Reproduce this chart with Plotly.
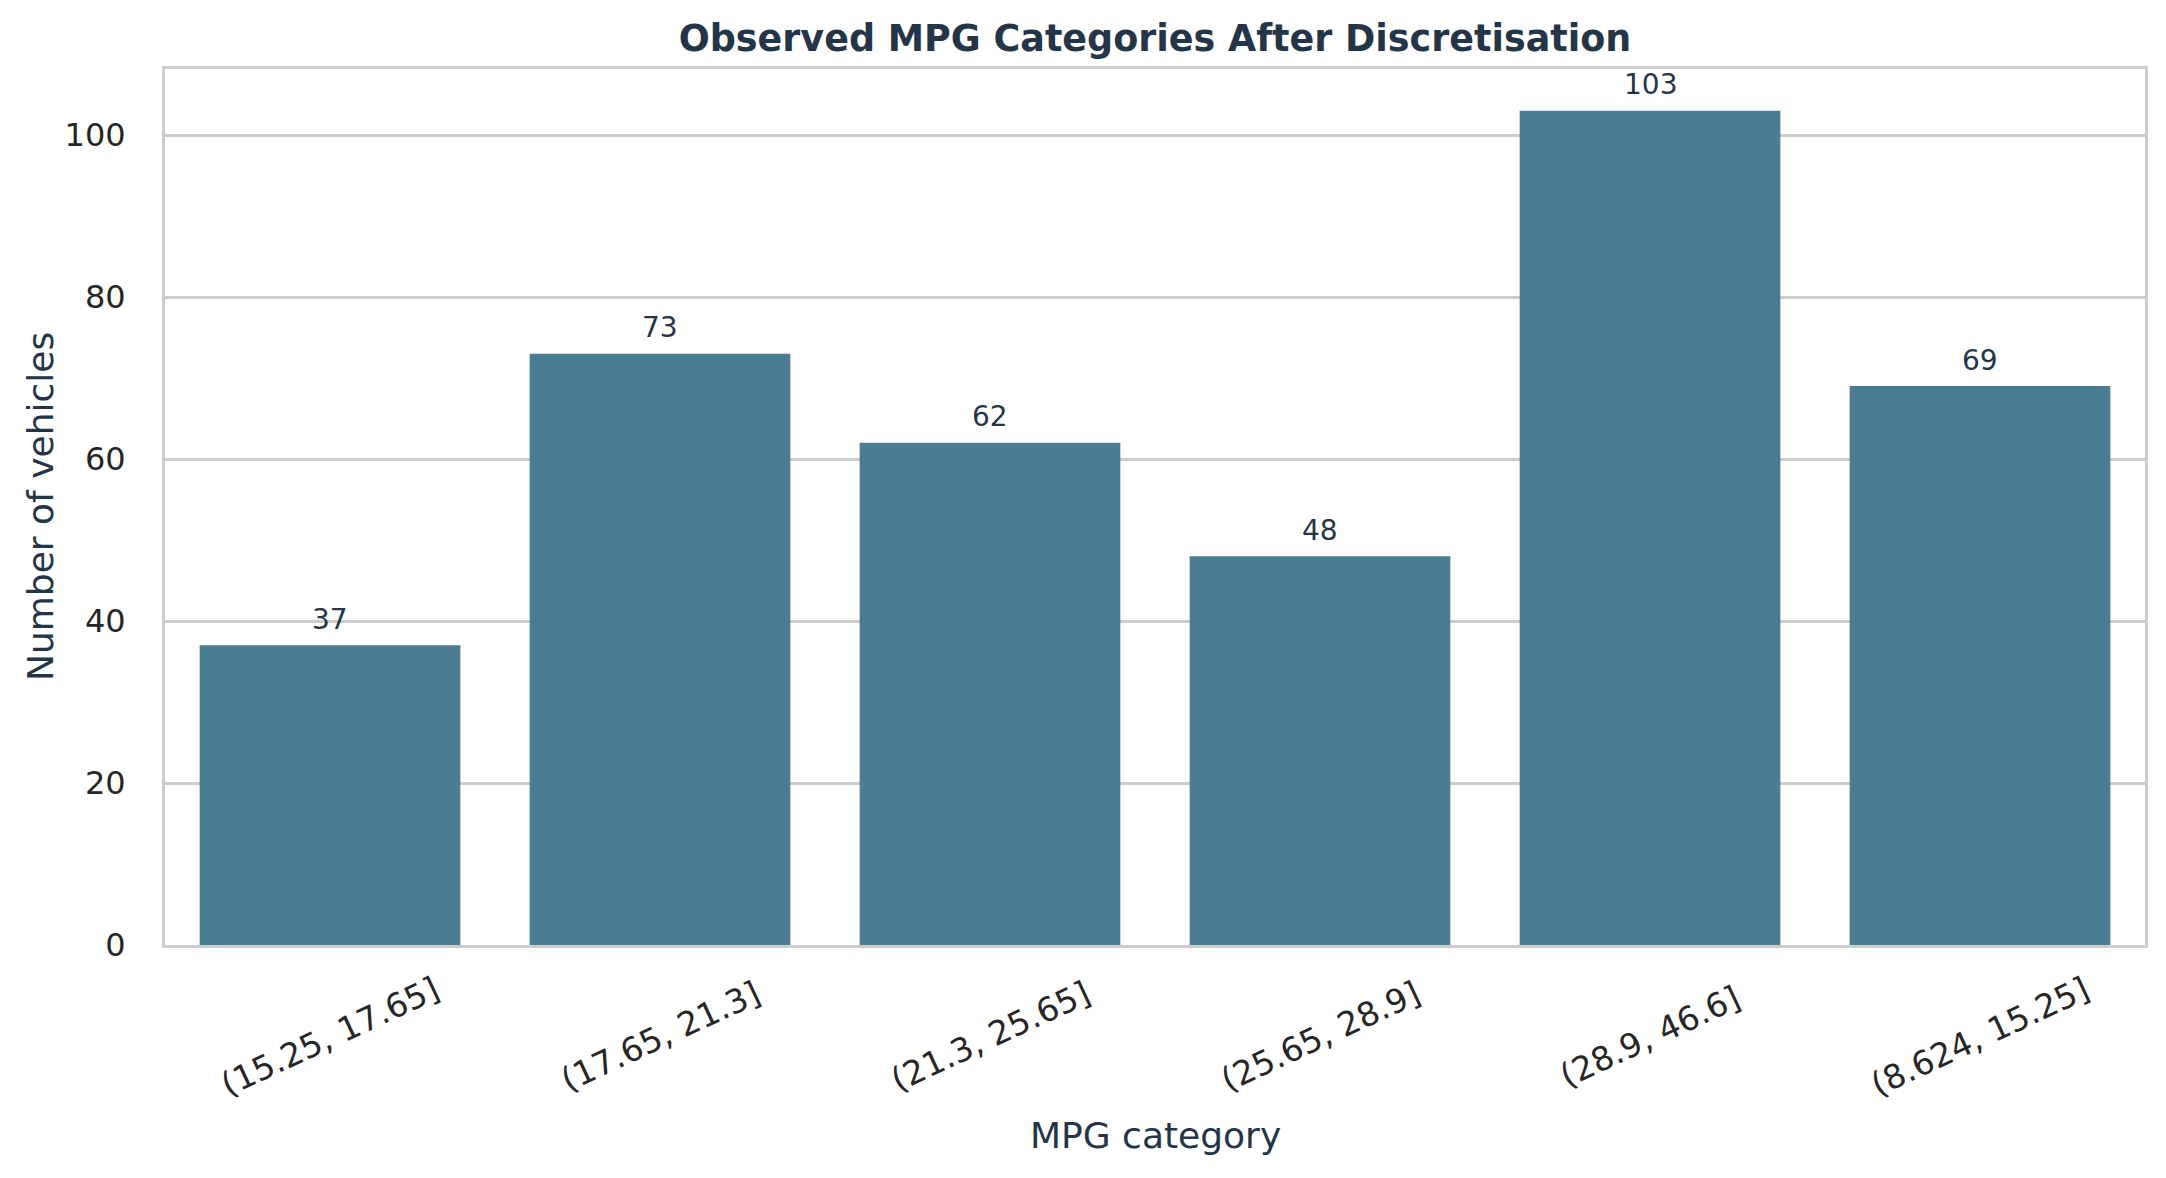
import plotly.graph_objects as go

# MPG bins as they come out of pd.cut (string order, not numeric)
categories = [
    "(15.25, 17.65]",
    "(17.65, 21.3]",
    "(21.3, 25.65]",
    "(25.65, 28.9]",
    "(28.9, 46.6]",
    "(8.624, 15.25]",
]
counts = [37, 73, 62, 48, 103, 69]
y_ticks = [0, 20, 40, 60, 80, 100]

BAR = "#4A7D93"
NAVY = "#253548"
GRID = "#CCCCCC"
FONT = "DejaVu Sans"

# the page body adds ~8px, so the plot box is placed 8px up/left of where it should land
L, R, T, B = 157, 29, 61, 241

fig = go.Figure()
fig.add_trace(go.Bar(
    x=categories,
    y=counts,
    marker=dict(color=BAR, line=dict(width=0)),
    width=0.79,
    showlegend=False,
    hoverinfo="x+y",
))

# value labels above each bar
for cat, n in zip(categories, counts):
    fig.add_annotation(
        x=cat, y=n, text=str(n), showarrow=False,
        yanchor="middle", yshift=26,
        font=dict(family=FONT, size=28, color=NAVY),
    )

# rotated tick labels, centred on each bar like matplotlib's rotation=25
for cat in categories:
    fig.add_annotation(
        x=cat, y=-0.104, yref="paper", text=cat, showarrow=False,
        textangle=-25, xanchor="center", yanchor="middle",
        font=dict(family=FONT, size=33, color="#262626"),
    )

plot_w = 2166 - L - R

# axis titles
fig.add_annotation(
    x=0.5, y=-0.217, xref="paper", yref="paper", text="MPG category",
    showarrow=False, yanchor="middle",
    font=dict(family=FONT, size=36, color=NAVY),
)
fig.add_annotation(
    x=(32 - L) / plot_w, y=0.5, xref="paper", yref="paper",
    text="Number of vehicles",
    showarrow=False, textangle=-90, xanchor="center", yanchor="middle",
    font=dict(family=FONT, size=36, color=NAVY),
)

fig.update_layout(
    width=2166,
    height=1178,
    margin=dict(l=L, r=R, t=T, b=B),
    plot_bgcolor="white",
    paper_bgcolor="white",
    font=dict(family=FONT, color="#262626"),
    title=dict(
        text="<b>Observed MPG Categories After Discretisation</b>",
        x=0.5, xref="paper", y=1 - 30 / 1178, yanchor="middle",
        font=dict(family=FONT, size=36.5, color=NAVY),
    ),
    bargap=0.21,
)
fig.update_xaxes(
    type="category",
    range=[-0.5, 5.5],
    showticklabels=False,
    showgrid=False,
    showline=True, linecolor=GRID, linewidth=3, mirror=True,
    ticks="",
)
fig.update_yaxes(
    range=[0, 108.15],
    tickvals=y_ticks,
    tickfont=dict(family=FONT, size=32, color="#262626"),
    showgrid=True, gridcolor=GRID, gridwidth=2.5,
    zeroline=False,
    showline=True, linecolor=GRID, linewidth=3, mirror=True,
    ticks="",
    ticklabelstandoff=30,
)

fig.write_html("out.html")
